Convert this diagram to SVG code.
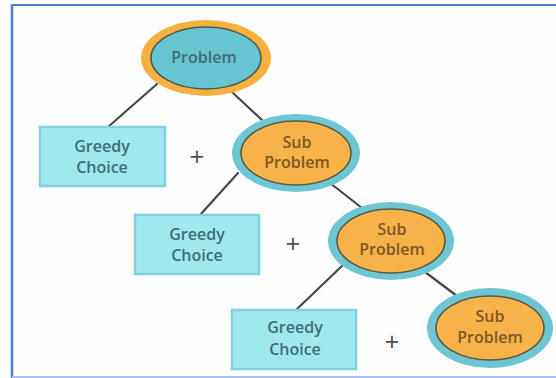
<svg xmlns="http://www.w3.org/2000/svg" width="556" height="378" viewBox="0 0 556 378">
<style>
.ring-o{fill:#f5b03f}
.ring-t{fill:#6ec6d2}
.in-t{fill:#67c5d2;stroke:#4a5a52;stroke-width:1.6}
.in-o{fill:#f7b24a;stroke:#5a5a45;stroke-width:1.6}
.box{fill:#a0e7f0;stroke:#7fd2dc;stroke-width:2.5}
.lbl{font-family:"Open Sans","Noto Sans",sans-serif;font-weight:600;font-size:16px;text-anchor:middle;dominant-baseline:central}
.tb{fill:#3f6c78}
.tbr{fill:#7c5826}
.plus{font-family:"Open Sans","Noto Sans",sans-serif;font-size:26px;fill:#505050;text-anchor:middle;dominant-baseline:central}
.conn line{stroke:#474747;stroke-width:2.2;stroke-linecap:round}
</style>
<rect x="0" y="0" width="556" height="378" fill="#ffffff"/>
<rect x="12" y="5" width="544" height="372" fill="#fdfdfd"/>
<line x1="11" y1="5" x2="556" y2="5" stroke="#4a7fd4" stroke-width="2"/>
<line x1="12" y1="4" x2="12" y2="378" stroke="#4a7fd4" stroke-width="2.5"/>
<line x1="12" y1="377" x2="556" y2="377" stroke="#a8c0ea" stroke-width="2"/>
<g class="conn">
<line x1="157" y1="84" x2="108" y2="127"/>
<line x1="232" y1="92" x2="262" y2="120"/>
<line x1="238" y1="173" x2="200" y2="215"/>
<line x1="330" y1="183" x2="362" y2="208"/>
<line x1="343" y1="265" x2="297" y2="309"/>
<line x1="425" y1="272" x2="457" y2="296"/>
</g>
<g id="problem">
<ellipse class="ring-o" cx="206" cy="58" rx="65" ry="38"/>
<ellipse class="in-t" cx="206" cy="58" rx="55" ry="31"/>
<text class="lbl tb" x="204" y="57">Problem</text>
</g>
<g id="greedy1">
<rect class="box" x="40" y="127" width="125" height="59"/>
<text class="lbl tb" x="102" y="146">Greedy</text>
<text class="lbl tb" x="102" y="167">Choice</text>
</g>
<text class="plus" x="197" y="156">+</text>
<g id="sub1">
<ellipse class="ring-t" cx="296" cy="153" rx="64" ry="39"/>
<ellipse class="in-o" cx="296" cy="153" rx="55" ry="32"/>
<text class="lbl tbr" x="297" y="142">Sub</text>
<text class="lbl tbr" x="297" y="162">Problem</text>
</g>
<g id="greedy2">
<rect class="box" x="135" y="215" width="124" height="59"/>
<text class="lbl tb" x="197" y="234">Greedy</text>
<text class="lbl tb" x="197" y="255">Choice</text>
</g>
<text class="plus" x="293" y="243">+</text>
<g id="sub2">
<ellipse class="ring-t" cx="391" cy="241" rx="63" ry="39"/>
<ellipse class="in-o" cx="391" cy="241" rx="54" ry="32"/>
<text class="lbl tbr" x="392" y="229">Sub</text>
<text class="lbl tbr" x="392" y="249">Problem</text>
</g>
<g id="greedy3">
<rect class="box" x="232" y="310" width="124" height="59"/>
<text class="lbl tb" x="295" y="327">Greedy</text>
<text class="lbl tb" x="295" y="349">Choice</text>
</g>
<text class="plus" x="392" y="341">+</text>
<g id="sub3">
<ellipse class="ring-t" cx="490" cy="328" rx="63" ry="40"/>
<ellipse class="in-o" cx="490" cy="328" rx="54" ry="32"/>
<text class="lbl tbr" x="490" y="316">Sub</text>
<text class="lbl tbr" x="490" y="337">Problem</text>
</g>
</svg>
